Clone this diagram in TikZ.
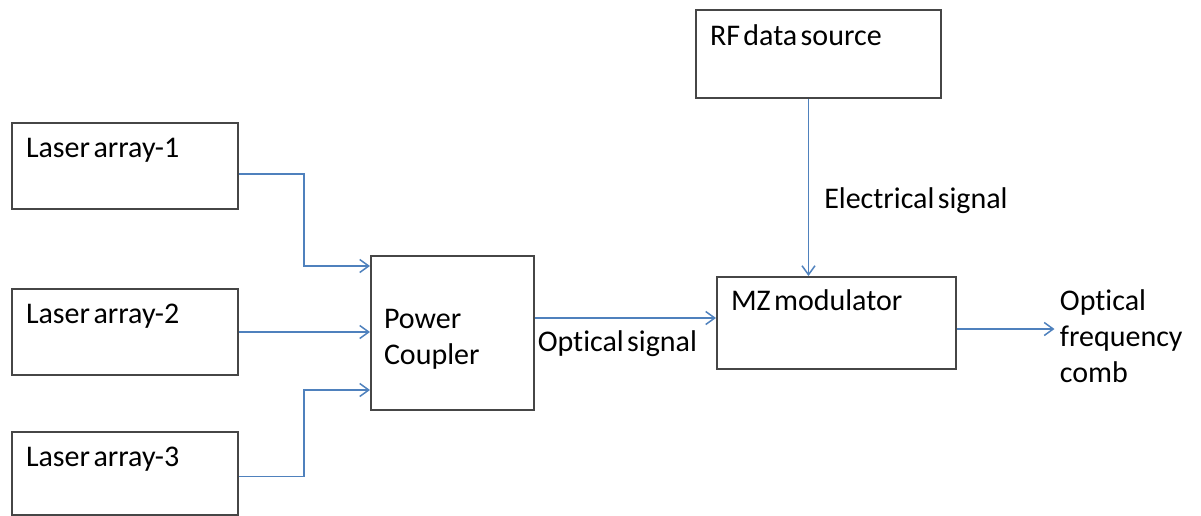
\documentclass[tikz,border=0pt]{standalone}
\usepackage{fontspec}
\setmainfont{Carlito}[WordSpace=0.5, Ligatures=NoCommon]
\usepackage{xcolor}
\usepackage{tikz}
\usetikzlibrary{arrows.meta,positioning,calc}

\definecolor{linkblue}{RGB}{79,129,189}
\definecolor{boxgray}{RGB}{70,70,70}
\newcommand{\blockfont}{\fontsize{15pt}{18pt}\selectfont}

\begin{document}
\begin{tikzpicture}[
    x=0.5pt, y=-0.5pt,
    box/.style={rectangle, draw=boxgray, line width=1pt, inner xsep=7pt,
                inner ysep=0pt, align=flush left, font=\blockfont},
    laser/.style={box, text width=99pt, text height=17pt, text depth=26pt},
    tag/.style={font=\blockfont, inner sep=0pt},
    link/.style={-{Straight Barb[length=4.5pt,width=6.5pt]}, draw=linkblue,
                 line width=0.75pt}
]
\useasboundingbox (0,0) rectangle (1201,515);

% sources on the left
\node[laser, anchor=north west] (las1) at (11,122) {Laser array-1};
\node[laser, below=39pt of las1] (las2) {Laser array-2};
\node[laser, below=27.5pt of las2, text depth=24.5pt] (las3) {Laser array-3};

% coupler, RF source and modulator
\node[box, anchor=north west, inner xsep=6.5pt, text width=68.5pt,
      text height=36pt, text depth=41pt] (coupler) at (370,255) {Power\\Coupler};
\node[box, anchor=north west, text width=108.5pt,
      text height=17.5pt, text depth=26.5pt] (rf) at (695,9) {RF data source};
\node[box, anchor=north west, text width=105.5pt,
      text height=16.5pt, text depth=29.5pt] (mz) at (716,276) {MZ modulator};
\node[tag, anchor=base west, inner xsep=2.5pt, align=left] (comb) at (1054.5,382)
     {Optical\\frequency\\comb};

% connections
\draw[link] ([yshift=-4pt]las1.east) -- ++(32.5pt,0) |- ([yshift=-5.5pt]coupler.north west);
\draw[link] (las2.east) -- (las2.east -| coupler.west);
\draw[link] ([yshift=-1.5pt]las3.east) -- ++(32.5pt,0) |- ([yshift=10.5pt]coupler.south west);
\draw[link] ([yshift=2.5pt]mz.west -| coupler.east) -- ([yshift=2.5pt]mz.west)
     node[tag, pos=0, anchor=base west, yshift=-16.5pt, xshift=1pt] (optsig) {Optical signal};
\draw[link] ([xshift=-5pt]rf.south) -- ([xshift=-5pt]rf.south |- mz.north)
     node[tag, pos=0.62, anchor=base west, xshift=7.5pt] (elsig) {Electrical signal};
\draw[link] ([yshift=-3pt]mz.east) -- ([yshift=-3pt]mz.east -| comb.west);
\end{tikzpicture}
\end{document}
